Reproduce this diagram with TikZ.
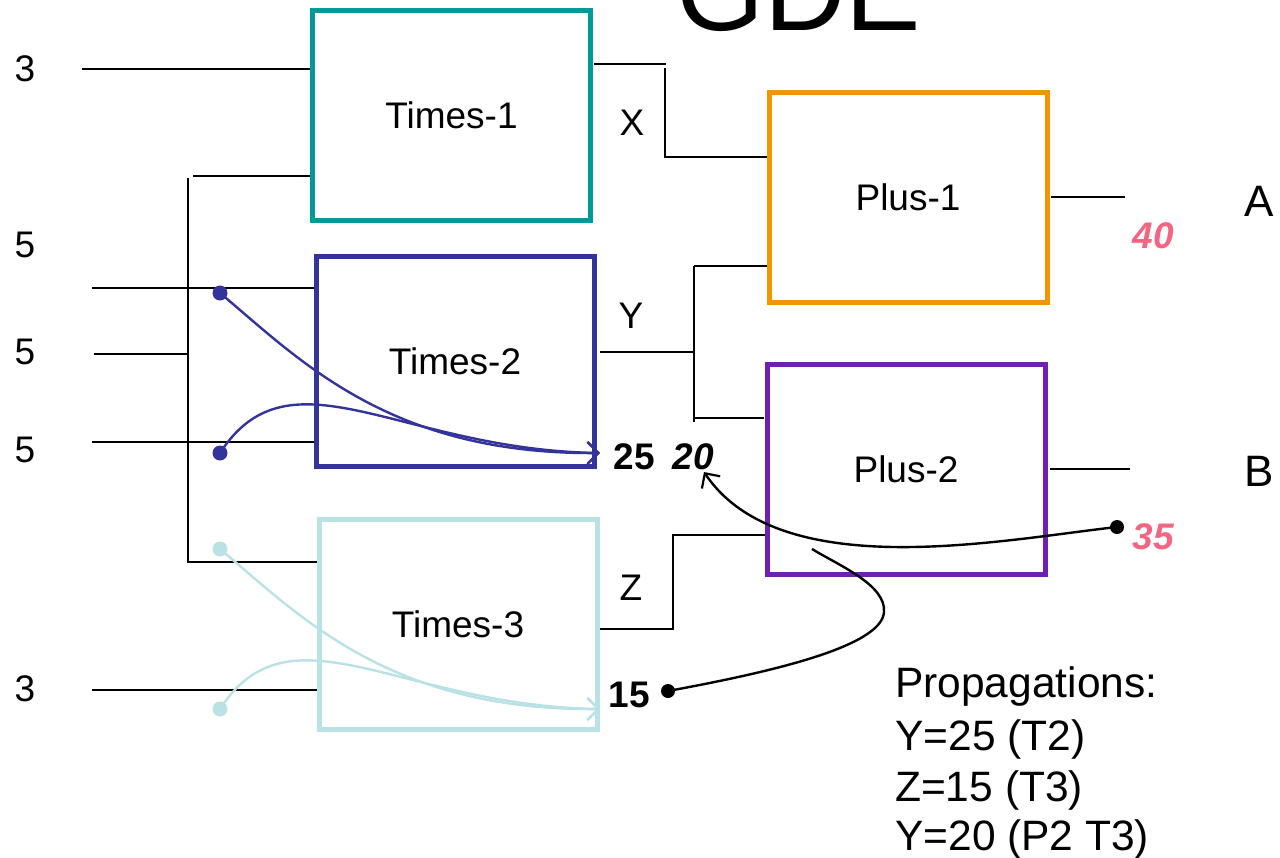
\documentclass[tikz,border=0pt]{standalone}
\usepackage{fontspec}
\setmainfont{Liberation Sans}
\usetikzlibrary{arrows.meta}
\definecolor{tealT}{RGB}{0,153,153}
\definecolor{blueT}{RGB}{51,51,153}
\definecolor{cyanT}{RGB}{186,225,228}
\definecolor{orangeP}{RGB}{240,150,0}
\definecolor{purpleP}{RGB}{112,32,176}
\definecolor{pinkV}{RGB}{242,102,132}
\begin{document}
\begin{tikzpicture}[x=1pt,y=-1pt,
  gate/.style={draw,line width=5pt,minimum width=278pt,minimum height=210pt,inner sep=0pt,font=\fontsize{37}{40}\selectfont},
  wire/.style={line width=2.8pt},
  lbl/.style={inner sep=0pt,font=\fontsize{37}{40}\selectfont},
  val/.style={inner sep=0pt,font=\fontsize{37}{40}\selectfont\bfseries},
  ival/.style={inner sep=0pt,font=\fontsize{37}{40}\selectfont\bfseries\itshape},
  trace/.style={line width=2.4pt,-{Straight Barb[length=11pt,width=22pt,line width=2.2pt]}},
  plain trace/.style={line width=2.4pt},
  prop/.style={inner sep=0pt,anchor=base west,font=\fontsize{42.5}{50}\selectfont}]
\useasboundingbox (0,0) rectangle (1280,857);

% title (cut off at top)
\node[inner sep=0pt,anchor=base west,font=\fontsize{113}{120}\selectfont] (title) at (676,30) {GDE};

% gates
\node[gate,draw=tealT]   (t1) at (451.5,115) {Times-1};
\node[gate,draw=blueT]   (t2) at (455,361)   {Times-2};
\node[gate,draw=cyanT]   (t3) at (458,624.5) {Times-3};
\node[gate,draw=orangeP] (p1) at (908,197)   {Plus-1};
\node[gate,draw=purpleP] (p2) at (906,469)   {Plus-2};

% input numbers
\node[lbl] (n1) at (25,69)  {3};
\node[lbl] (n2) at (25,245) {5};
\node[lbl] (n3) at (25,352) {5};
\node[lbl] (n4) at (25,450) {5};
\node[lbl] (n5) at (25,689) {3};

% input wires
\coordinate (i1) at (82,69);
\coordinate (i2) at (92,288);
\coordinate (i3) at (94,354);
\coordinate (i4) at (92,442);
\coordinate (i5) at (92,690);
\coordinate (bt) at (188,178);
\coordinate (btw) at (193,176);
\coordinate (bb) at (188,562);
\coordinate (bm) at (188,354);
\draw[wire] (i1) -- (i1 -| t1.west);
\draw[wire] (i2) -- (i2 -| t2.west);
\draw[wire] (i3) -- (bm);
\draw[wire] (i4) -- (i4 -| t2.west);
\draw[wire] (i5) -- (i5 -| t3.west);
\draw[wire] (btw) -- (btw -| t1.west);
\draw[wire] (bt) -- (bb) -- (bb -| t3.west);

% X
\coordinate (x0) at (594,64);
\coordinate (x1) at (666,64);
\coordinate (x2) at (665,68);
\coordinate (x3) at (665,157);
\draw[wire] (x0) -- (x1);
\draw[wire] (x2) -- (x3) -- (x3 -| p1.west);
\node[lbl] (lx) at (632,123) {X};

% Y
\coordinate (y0) at (600,352);
\coordinate (yj) at (694,352);
\coordinate (yt) at (694,266);
\coordinate (yb) at (694,422);
\coordinate (yb2) at (694,418);
\draw[wire] (y0) -- (yj);
\draw[wire] (yt) -- (yb);
\draw[wire] (yt) -- (yt -| p1.west);
\draw[wire] (yb2) -- (764,418);
\node[lbl] (ly) at (631,316) {Y};

% Z
\coordinate (z0) at (600,629);
\coordinate (zt) at (673,535);
\draw[wire] (z0) -| (zt) -- (zt -| p2.west);
\node[lbl] (lz) at (631,588) {Z};

% outputs
\coordinate (a0) at (1051,197);
\coordinate (a1) at (1125,197);
\coordinate (b0) at (1050,469);
\coordinate (b1) at (1130,469);
\draw[wire] (a0) -- (a1);
\draw[wire] (b0) -- (b1);
\node[inner sep=0pt,font=\fontsize{44}{48}\selectfont] (la) at (1259,201) {A};
\node[inner sep=0pt,font=\fontsize{44}{48}\selectfont] (lb) at (1259,471) {B};

% values
\node[ival,text=pinkV] (v40) at (1153,236) {40};
\node[ival,text=pinkV] (v35) at (1153,537) {35};
\node[val] (v25) at (634,457) {25};
\node[ival] (v20) at (693,457) {20};
\node[val] (v15) at (629,695) {15};

% Times-2 propagation traces
\coordinate (d1) at (220,293);
\coordinate (d2) at (220,453);
\coordinate (e2) at (600,453);
\fill[blueT] (d1) circle (7.5);
\fill[blueT] (d2) circle (7.5);
\draw[trace,blueT] (d1) .. controls (300,360) and (390,455) .. (e2);
\draw[trace,blueT] (d2) .. controls (290,345) and (400,450) .. (e2);

% Times-3 propagation traces
\coordinate (d3) at (220,549);
\coordinate (d4) at (220,709);
\coordinate (e3) at (600,709);
\fill[cyanT] (d3) circle (7.5);
\fill[cyanT] (d4) circle (7.5);
\draw[trace,cyanT] (d3) .. controls (300,616) and (390,711) .. (e3);
\draw[trace,cyanT] (d4) .. controls (290,601) and (400,706) .. (e3);

% Plus-2 propagation traces
\coordinate (d5) at (1117,527);
\coordinate (e5) at (704,472);
\coordinate (d6) at (668,691);
\coordinate (m6) at (884,612);
\coordinate (e6) at (812,549);
\fill (d5) circle (7);
\fill (d6) circle (7);
\draw[trace] (d5) .. controls (1000,540) and (780,585) .. (e5);
\draw[plain trace] (d6) .. controls (760,674) and (882,648) .. (m6) .. controls (886,585) and (840,566) .. (e6);

% propagations text
\node[prop] (pr1) at (895,697) {Propagations:};
\node[prop] (pr2) at (895,750) {Y=25 (T2)};
\node[prop] (pr3) at (895,801) {Z=15 (T3)};
\node[prop] (pr4) at (895,850) {Y=20 (P2 T3)};
\end{tikzpicture}
\end{document}
